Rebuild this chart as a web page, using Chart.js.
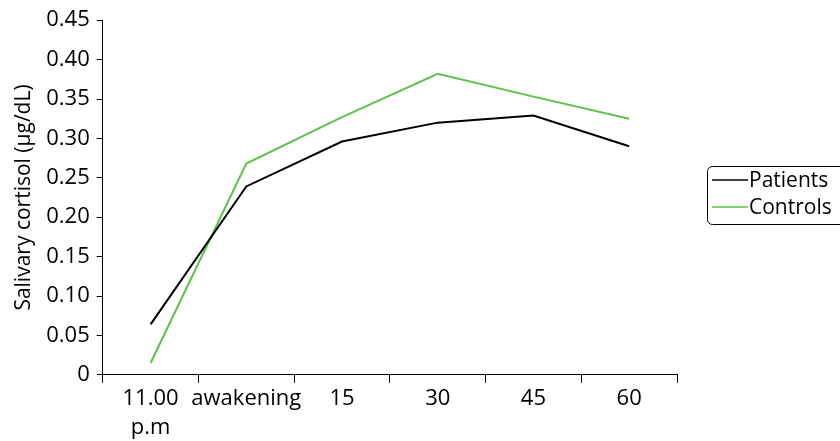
<!DOCTYPE html>
<html>
<head>
<meta charset="utf-8">
<script src="https://cdn.jsdelivr.net/npm/chart.js@4/dist/chart.umd.min.js"></script>
<style>
  html, body { margin: 0; padding: 0; background: #fff; }
  #wrap { width: 840px; height: 441px; position: relative; }
</style>
</head>
<body>
<div id="wrap"><canvas id="cortisolChart"></canvas></div>
<script>
const timePoints = [["11.00", "p.m"], "awakening", "15", "30", "45", "60"];
const patients = [0.064, 0.239, 0.296, 0.320, 0.329, 0.290];
const controls = [0.015, 0.268, 0.327, 0.382, 0.353, 0.325];
const yTickLabels = ["0", "0.05", "0.10", "0.15", "0.20", "0.25", "0.30", "0.35", "0.40", "0.45"];

const FONT = "'Open Sans', 'Noto Sans', sans-serif";

// boxed legend on the right, drawn after the chart
const boxLegend = {
  id: "boxLegend",
  afterDraw(chart) {
    const ctx = chart.ctx;
    const x = 707, y = 166, w = 150, h = 58;
    ctx.save();
    ctx.strokeStyle = "#000";
    ctx.lineWidth = 1;
    ctx.beginPath();
    ctx.roundRect(x + 0.5, y + 0.5, w, h, 5);
    ctx.stroke();
    ctx.font = "21px " + FONT;
    ctx.textBaseline = "middle";
    ctx.fillStyle = "#000";
    chart.data.datasets.forEach((ds, i) => {
      const ly = 180 + i * 27;
      ctx.strokeStyle = ds.borderColor;
      ctx.lineWidth = 1.5;
      ctx.beginPath();
      ctx.moveTo(712, ly);
      ctx.lineTo(748, ly);
      ctx.stroke();
      ctx.fillText(ds.label, 749, ly + 1);
    });
    ctx.restore();
  }
};

const ctx = document.getElementById("cortisolChart").getContext("2d");

new Chart(ctx, {
  type: "line",
  data: {
    labels: timePoints,
    datasets: [
      {
        label: "Patients",
        data: patients,
        borderColor: "#000000",
        borderWidth: 2,
        pointRadius: 0,
        tension: 0,
      },
      {
        label: "Controls",
        data: controls,
        borderColor: "#5cc24a",
        borderWidth: 2,
        pointRadius: 0,
        tension: 0,
      },
    ],
  },
  options: {
    responsive: true,
    maintainAspectRatio: false,
    animation: false,
    layout: { padding: { top: 8, right: 163, bottom: -3, left: 0 } },
    plugins: {
      legend: { display: false },
      tooltip: { enabled: false },
    },
    scales: {
      x: {
        offset: true,
        grid: {
          offset: true,
          drawOnChartArea: false,
          drawTicks: true,
          tickLength: 8,
          color: "#000",
        },
        border: { color: "#000", width: 1 },
        ticks: {
          color: "#000",
          font: { family: FONT, size: 22, lineHeight: 1.3 },
          padding: 2,
          maxRotation: 0,
          autoSkip: false,
        },
      },
      y: {
        min: 0,
        max: 0.45,
        grid: {
          drawOnChartArea: false,
          drawTicks: true,
          tickLength: 6,
          color: "#000",
        },
        border: { color: "#000", width: 1 },
        ticks: {
          stepSize: 0.05,
          color: "#000",
          font: { family: FONT, size: 22 },
          padding: 7,
          callback: (value, index) => yTickLabels[index],
        },
        title: {
          display: true,
          text: "Salivary cortisol (μg/dL)",
          color: "#000",
          font: { family: FONT, size: 21 },
          padding: { top: 11, bottom: 3 },
        },
      },
    },
  },
  plugins: [boxLegend],
});
</script>
</body>
</html>
